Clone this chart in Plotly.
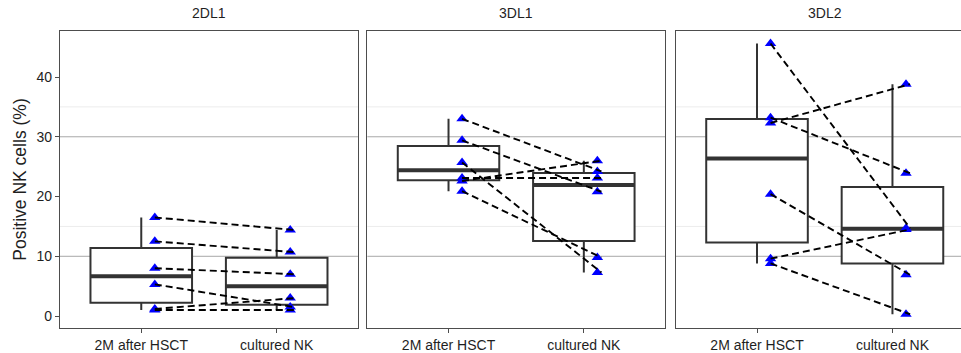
import numpy as np
import plotly.graph_objects as go

# Receptor panels and the two sample groups
panels = ["2DL1", "3DL1", "3DL2"]
groups = ["2M after HSCT", "cultured NK"]

# Paired percentages per patient (same index = same patient)
kir2dl1_post = [16.5, 12.5, 8.0, 5.3, 1.2, 1.0]
kir2dl1_cult = [14.4, 10.7, 7.0, 1.5, 3.0, 1.0]

kir3dl1_post = [33.0, 29.4, 25.7, 22.6, 23.1, 20.9]
kir3dl1_cult = [24.2, 20.8, 7.3, 26.0, 23.1, 9.8]

kir3dl2_post = [45.6, 33.2, 32.3, 20.4, 9.6, 8.8]
kir3dl2_cult = [14.7, 23.9, 38.8, 6.9, 14.5, 0.3]

y_ticks = [0, 10, 20, 30, 40]

data = [
    (kir2dl1_post, kir2dl1_cult),
    (kir3dl1_post, kir3dl1_cult),
    (kir3dl2_post, kir3dl2_cult),
]

BOX_W = 0.75
PT_DX = 0.1
LINE_END_DX = 0.13
BOX_LINE = "#333333"
AX_LINE = "#4d4d4d"
TEXT = "#1f1f1f"

domains = [(0.0, 0.3307), (0.3411, 0.6715), (0.6834, 1.0)]
x_ranges = [(0.4, 2.6), (0.4, 2.6), (0.4, 2.506)]


def box_stats(vals):
    v = np.asarray(vals, dtype=float)
    q1, med, q3 = np.percentile(v, [25, 50, 75])
    iqr = q3 - q1
    lo = v[v >= q1 - 1.5 * iqr].min()
    hi = v[v <= q3 + 1.5 * iqr].max()
    return q1, med, q3, lo, hi


fig = go.Figure()

for i, (pre, post) in enumerate(data):
    sfx = "" if i == 0 else str(i + 1)
    xa, ya = "x" + sfx, "y" + sfx
    for g, vals in enumerate((pre, post)):
        pos = g + 1
        q1, med, q3, lo, hi = box_stats(vals)
        fig.add_trace(go.Box(
            x=[pos], q1=[q1], median=[med], q3=[q3],
            lowerfence=[lo], upperfence=[hi],
            width=BOX_W, fillcolor="white",
            line=dict(color=BOX_LINE, width=2),
            boxpoints=False, whiskerwidth=0,
            xaxis=xa, yaxis=ya, showlegend=False, hoverinfo="skip",
        ))
        # thicker median bar
        fig.add_trace(go.Scatter(
            x=[pos - BOX_W / 2, pos + BOX_W / 2], y=[med, med],
            mode="lines", line=dict(color=BOX_LINE, width=4),
            xaxis=xa, yaxis=ya, showlegend=False, hoverinfo="skip",
        ))
    # patient points
    for g, vals in enumerate((pre, post)):
        fig.add_trace(go.Scatter(
            x=[g + 1 + PT_DX] * len(vals), y=vals, mode="markers",
            marker=dict(symbol="triangle-up", size=10, color="#0000ff"),
            xaxis=xa, yaxis=ya, showlegend=False,
        ))
    # paired dashed connectors
    for a, b in zip(pre, post):
        fig.add_trace(go.Scatter(
            x=[1 + PT_DX, 2 + LINE_END_DX], y=[a, b], mode="lines",
            line=dict(color="black", width=1.9, dash="7px,4px"),
            xaxis=xa, yaxis=ya, showlegend=False, hoverinfo="skip",
        ))

layout = dict(
    width=961, height=353,
    margin=dict(l=60, r=0, t=31, b=21),
    paper_bgcolor="white", plot_bgcolor="white",
    font=dict(family="Liberation Sans, Arial, sans-serif", color=TEXT, size=14),
)

shapes = []
annotations = []
for i in range(3):
    sfx = "" if i == 0 else str(i + 1)
    layout["xaxis" + sfx] = dict(
        domain=list(domains[i]), range=list(x_ranges[i]), anchor="y" + sfx,
        tickvals=[1, 2], ticktext=groups, ticks="outside", ticklen=4,
        tickcolor=AX_LINE, showline=True, mirror=True, linecolor=AX_LINE,
        linewidth=1.3, showgrid=False, zeroline=False,
        tickfont=dict(size=14, color=TEXT),
    )
    layout["yaxis" + sfx] = dict(
        domain=[0, 1], range=[-2.0, 47.7], anchor="x" + sfx,
        tickvals=y_ticks, showticklabels=(i == 0),
        ticks="outside" if i == 0 else "", ticklen=4, tickcolor=AX_LINE,
        showline=True, mirror=(i < 2), linecolor=AX_LINE, linewidth=1.3,
        showgrid=False, zeroline=False,
        tickfont=dict(size=14, color=TEXT),
    )
    for yv, col in ((10, "#a8a8a8"), (30, "#a8a8a8"), (15, "#ececec"), (35, "#ececec")):
        shapes.append(dict(
            type="line", xref=f"x{sfx} domain", yref="y" + sfx,
            x0=0, x1=1, y0=yv, y1=yv, layer="below",
            line=dict(color=col, width=1),
        ))
    d0, d1 = domains[i]
    if i == 2:
        d1 = d0 + (d1 - d0) * (2.2 / (x_ranges[i][1] - x_ranges[i][0]))
    annotations.append(dict(
        text=panels[i], x=(d0 + d1) / 2, y=1, xref="paper", yref="paper",
        xanchor="center", yanchor="bottom", yshift=8, showarrow=False,
        font=dict(size=14, color=TEXT),
    ))

layout["yaxis"]["title"] = dict(text="Positive NK cells (%)", font=dict(size=17.5, color=TEXT), standoff=5)
layout["shapes"] = shapes
layout["annotations"] = annotations
fig.update_layout(**layout)

fig.write_html("out.html")
